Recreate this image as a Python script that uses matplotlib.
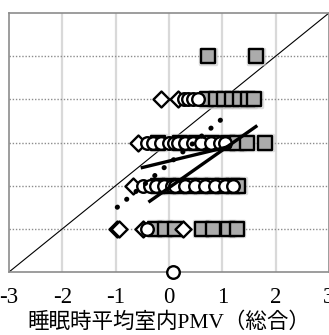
import matplotlib
matplotlib.use("Agg")
import matplotlib.pyplot as plt
import numpy as np

# Gray squares
sq_x = [0.73, 1.63,
        0.72, 0.88, 1.03, 1.18, 1.33, 1.48, 1.6,
        -0.2, 0.2, 0.5, 0.8, 1.1, 1.28, 1.46, 1.8,
        -0.2, 0.0, 0.2, 0.4, 0.6, 0.8, 1.0, 1.2, 1.3,
        -0.26, -0.08, 0.11, 0.62, 0.83, 1.1, 1.27]
sq_y = [2, 2,
        1, 1, 1, 1, 1, 1, 1,
        0, 0, 0, 0, 0, 0, 0, 0,
        -1, -1, -1, -1, -1, -1, -1, -1, -1,
        -2, -2, -2, -2, -2, -2, -2]

# White diamonds
dm_x = [-0.15, 0.17, -0.58, -0.67, -0.98, -0.93, -0.49, 0.26]
dm_y = [1, 1, 0, -1, -2, -2, -2, -2]

# White circles
ci_x = [0.28, 0.36, 0.45, 0.54,
        -0.42, -0.3, -0.15, 0.0, 0.1, 0.17, 0.3, 0.45, 0.6, 0.78, 0.95, 1.05,
        -0.48, -0.35, -0.25, -0.1, 0.05, 0.11, 0.3, 0.49, 0.68, 0.86, 1.05, 1.2,
        -0.41, 0.08]
ci_y = [1, 1, 1, 1,
        0, 0, 0, 0, 0, 0, 0, 0, 0, 0, 0, 0,
        -1, -1, -1, -1, -1, -1, -1, -1, -1, -1, -1, -1,
        -2, -3]

# Linear fits: (x start, x end, y start, y end)
fit_dotted = ([-0.97, 1.13], [-1.5, 0.69])
fit_a = ([-0.5, 1.14], [-0.58, -0.09])
fit_b = ([-0.36, 1.63], [-1.36, 0.37])

xticks = [-3, -2, -1, 0, 1, 2, 3]
xlabel = "睡眠時平均室内PMV（総合）"
fonts = ["Liberation Serif", "Noto Sans CJK JP"]

fig = plt.figure(figsize=(3.29, 3.35), dpi=100)
ax = fig.add_axes([9 / 329, (335 - 272) / 335, 320 / 329, 259 / 335])
ax.set_xlim(-3, 3)
ax.set_ylim(-3, 3)

for gx in [-2, -1, 0, 1, 2]:
    ax.axvline(gx, color="#d9d9d9", lw=1.6, zorder=0)
for gy in [-2, -1, 0, 1, 2]:
    ax.axhline(gy, color="#8c8c8c", lw=1.0, ls=(0, (1, 1.3)), zorder=0)

ax.plot([-3, 3], [-3, 3], color="black", lw=0.8, zorder=1)

# soft halo under the gray squares
ax.scatter(sq_x, sq_y, marker="s", s=120, facecolor="none",
           edgecolor="#c8c8c8", linewidths=2.5, alpha=0.6, zorder=2)
ax.scatter(sq_x, sq_y, marker="s", s=88, facecolor="#ababab",
           edgecolor="black", linewidths=1.7, zorder=3)
ax.scatter(dm_x, dm_y, marker="D", s=66, facecolor="white",
           edgecolor="black", linewidths=1.7, zorder=4)
ax.scatter(ci_x, ci_y, marker="o", s=82, facecolor="white",
           edgecolor="black", linewidths=1.7, zorder=5, clip_on=False)

ax.plot(*fit_dotted, color="black", lw=3.6, ls=(0, (0.05, 2.4)),
        dash_capstyle="round", solid_capstyle="round", zorder=6)
ax.plot(*fit_a, color="black", lw=2.4, zorder=6)
ax.plot(*fit_b, color="black", lw=2.4, zorder=6)

for s in ax.spines.values():
    s.set_color("#8c8c8c")
    s.set_linewidth(1.2)

ax.set_xticks(xticks)
ax.set_xticklabels([str(t) for t in xticks], family=fonts, fontsize=16.5)
ax.tick_params(axis="x", length=0, pad=11)
ax.set_yticks([])
ax.set_xlabel(xlabel, family=fonts, fontsize=15.5, labelpad=3)

fig.savefig("out.png", dpi=100)
